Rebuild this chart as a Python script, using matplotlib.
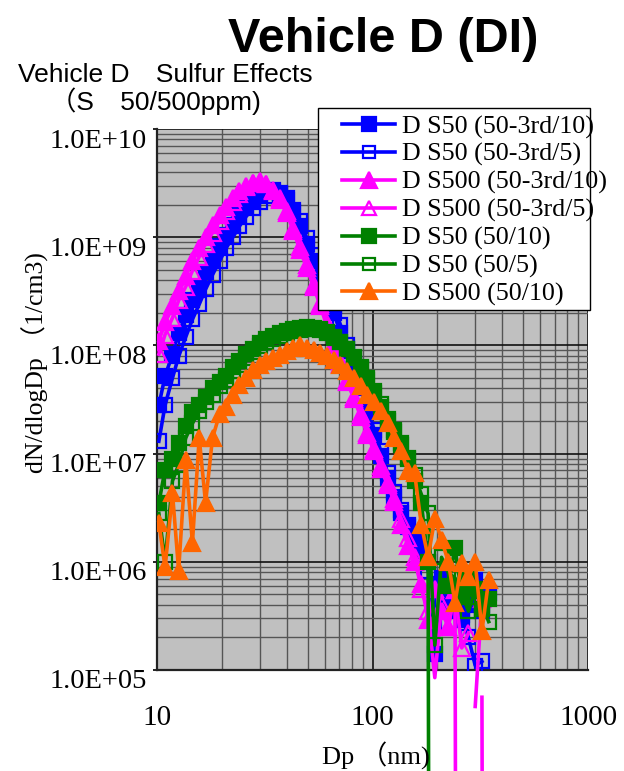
import numpy as np
import matplotlib
matplotlib.use("Agg")
import matplotlib.pyplot as plt
from matplotlib.lines import Line2D
from matplotlib.patches import Rectangle
from matplotlib.transforms import ScaledTranslation
from matplotlib.font_manager import FontProperties

nan = np.nan

# ---- data ----
dp_nm = [10.2, 10.9, 11.8, 12.6, 13.6, 14.6, 15.7, 16.8, 18.1, 19.5,
         20.9, 22.5, 24.1, 25.9, 27.9, 30.0, 32.2, 34.6, 37.2, 40.0,
         42.9, 46.1, 49.6, 53.3, 57.3, 61.5, 66.1, 71.0, 76.4, 82.0,
         88.2, 94.7, 101.8, 109.4, 117.6, 126.3, 135.8, 145.9, 156.8, 168.5,
         181.1, 194.6, 209.1, 224.7, 241.4, 259.5, 278.8, 299.6, 322.0, 346.0]

s50_3rd_10 = [2.8e7, 5.2e7, 8.3e7, 1.3e8, 1.9e8, 2.6e8, 3.5e8, 4.8e8, 6.3e8, 8.3e8,
              1.05e9, 1.3e9, 1.6e9, 1.9e9, 2.2e9, 2.45e9, 2.7e9, 2.75e9, 2.55e9, 2.3e9,
              1.7e9, 1.26e9, 8.7e8, 6.0e8, 4.2e8, 2.8e8, 2.0e8, 1.3e8, 8.9e7, 6.0e7,
              4.0e7, 2.4e7, 1.5e7, 9.5e6, 6.0e6, 4.0e6, 2.8e6, 2.1e6, 1.66e6, 1.3e6,
              1.0e6, 1.4e5, 7.1e5, 3.5e5, 5.0e5, 2.9e5, 4.0e5, 6.8e5, 3.5e5, 5.1e5]

s50_3rd_5 = [1.3e7, 2.8e7, 5.0e7, 7.9e7, 1.2e8, 1.74e8, 2.4e8, 3.3e8, 4.5e8, 6.0e8,
             7.9e8, 1.0e9, 1.26e9, 1.55e9, 1.86e9, 2.1e9, 2.4e9, 2.6e9, 2.5e9, 2.2e9,
             1.8e9, 1.4e9, 9.8e8, 6.9e8, 4.8e8, 3.3e8, 2.3e8, 1.55e8, 1.0e8, 6.8e7,
             4.4e7, 2.7e7, 1.66e7, 1.05e7, 6.6e6, 4.4e6, 3.0e6, 2.2e6, 1.66e6, 1.26e6,
             8.3e5, 6.3e5, 4.2e5, 2.8e5, 4.5e5, 3.2e5, 2.0e5, 1.1e5, 1.2e5, nan]

s500_3rd_10 = [1.1e8, 1.66e8, 2.3e8, 3.2e8, 4.4e8, 6.0e8, 7.9e8, 1.0e9, 1.3e9, 1.6e9,
               1.9e9, 2.3e9, 2.7e9, 3.0e9, 3.2e9, 3.3e9, 3.1e9, 2.7e9, 2.2e9, 1.66e9,
               1.15e9, 7.6e8, 5.2e8, 3.5e8, 2.3e8, 1.5e8, 1.0e8, 6.8e7, 4.6e7, 3.2e7,
               2.2e7, 1.5e7, 1.05e7, 7.2e6, 5.1e6, 3.6e6, 2.2e6, 1.4e6, 1.0e6, 6.3e5,
               2.9e5, 5.6e5, 3.5e5, 2.5e5, 5.5e5, 1e-20, nan, 4.6e4, 4.5e5, nan]

s500_3rd_5 = [8.3e7, 1.26e8, 1.8e8, 2.6e8, 3.5e8, 4.9e8, 6.6e8, 8.7e8, 1.1e9, 1.4e9,
              1.74e9, 2.1e9, 2.5e9, 2.9e9, 3.2e9, 3.2e9, 3.1e9, 2.75e9, 2.3e9, 1.74e9,
              1.2e9, 8.1e8, 5.5e8, 3.6e8, 2.4e8, 1.6e8, 1.05e8, 7.1e7, 4.8e7, 3.3e7,
              2.3e7, 1.55e7, 1.1e7, 7.6e6, 5.4e6, 3.8e6, 2.5e6, 1.66e6, 1.1e6, 5.6e5,
              3.5e5, 8.5e4, 4.0e5, 2.5e5, 5.5e5, 1.6e5, 2.2e5, nan, 5.6e4, 1e-20]

s50_10 = [3.5e6, 7.1e6, 8.9e6, 1.26e7, 1.8e7, 2.4e7, 2.8e7, 3.3e7, 4.0e7, 4.6e7,
          5.2e7, 6.3e7, 7.2e7, 8.3e7, 9.3e7, 1.05e8, 1.15e8, 1.23e8, 1.29e8, 1.35e8,
          1.41e8, 1.45e8, 1.48e8, 1.45e8, 1.41e8, 1.32e8, 1.2e8, 1.07e8, 9.3e7, 7.6e7,
          6.0e7, 4.8e7, 3.6e7, 2.7e7, 2.0e7, 1.66e7, 1.26e7, 8.9e6, 5.6e6, 3.5e6,
          1.0e6, 1e-20, nan, 6.0e5, 1.35e6, 4.9e5, 7.9e5, 5.6e5, 3.7e5, 4.5e5]

s50_5 = [2.8e6, 1.0e6, 5.6e6, 7.9e6, 1.4e7, 1.9e7, 2.5e7, 3.0e7, 3.5e7, 4.2e7,
         4.8e7, 5.8e7, 6.6e7, 7.6e7, 8.7e7, 9.8e7, 1.07e8, 1.15e8, 1.23e8, 1.29e8,
         1.35e8, 1.38e8, 1.41e8, 1.41e8, 1.38e8, 1.29e8, 1.17e8, 1.07e8, 9.3e7, 7.8e7,
         6.3e7, 5.0e7, 3.8e7, 2.9e7, 2.1e7, 1.6e7, 1.2e7, 9.1e6, 6.3e6, 4.2e6,
         2.8e6, 1.7e5, 1.1e6, 7.9e5, 7.1e5, 5.0e5, 3.5e5, 5.6e5, 4.0e5, 2.8e5]

s500_10 = [2.3e6, 8.9e5, 4.3e6, 8.3e5, 8.7e6, 1.5e6, 1.4e7, 3.5e6, 1.4e7, 2.3e7,
           2.7e7, 3.5e7, 4.3e7, 5.0e7, 5.9e7, 6.6e7, 7.2e7, 7.6e7, 8.1e7, 8.9e7,
           9.5e7, 1.0e8, 9.5e7, 9.1e7, 8.5e7, 7.9e7, 7.4e7, 6.6e7, 5.8e7, 5.0e7,
           4.2e7, 3.5e7, 3.0e7, 2.5e7, 1.9e7, 1.4e7, 1.05e7, 6.9e6, 6.6e6, 2.2e6,
           1.1e6, 2.5e6, 1.6e6, 1.0e6, 4.2e5, 9.8e5, 7.2e5, 1.0e6, 2.3e5, 6.8e5]

labels = ["D S50 (50-3rd/10)", "D S50 (50-3rd/5)", "D S500 (50-3rd/10)",
          "D S500 (50-3rd/5)", "D S50 (50/10)", "D S50 (50/5)", "D S500 (50/10)"]
ytick_vals = [1e5, 1e6, 1e7, 1e8, 1e9, 1e10]
ytick_labels = ["1.0E+05", "1.0E+06", "1.0E+07", "1.0E+08", "1.0E+09", "1.0E+10"]
xtick_vals = [10, 100, 1000]
xtick_labels = ["10", "100", "1000"]

# ---- styles ----
series = [
    (s50_3rd_10, "#0000FF", "s", True, 10.0),
    (s50_3rd_5, "#0000FF", "s", False, 9.5),
    (s500_3rd_10, "#FF00FF", "^", True, 11.5),
    (s500_3rd_5, "#FF00FF", "^", False, 11.0),
    (s50_10, "#008000", "s", True, 10.0),
    (s50_5, "#008000", "s", False, 9.5),
    (s500_10, "#FF6600", "^", True, 11.5),
]

W, H = 624, 771
fig = plt.figure(figsize=(W / 100, H / 100), dpi=100)
ax = fig.add_axes([157 / W, 1 - 670 / H, (588 - 157) / W, (670 - 129) / H])
ax.set_xscale("log")
ax.set_yscale("log")
ax.set_xlim(10, 1000)
ax.set_ylim(1e5, 1e10)
ax.set_facecolor("#C0C0C0")
ax.set_axisbelow(True)
ax.grid(which="major", color="#111111", lw=1.2)
ax.grid(which="minor", color="#555555", lw=1.0)

serif = ["Liberation Serif", "Noto Sans CJK JP"]
sans = ["Liberation Sans", "Noto Sans CJK JP"]

ax.set_yticks(ytick_vals)
ax.set_yticklabels(ytick_labels, family=serif, fontsize=20.5)
ax.set_xticks(xtick_vals)
ax.set_xticklabels(xtick_labels, family=serif, fontsize=21)
ax.tick_params(axis="y", which="major", length=3, width=1.2, pad=4, direction="out")
ax.tick_params(axis="x", which="major", length=0, pad=25)
ax.tick_params(which="minor", length=0)
ax.yaxis.set_minor_formatter(plt.NullFormatter())
ax.xaxis.set_minor_formatter(plt.NullFormatter())
for lab in ax.get_yticklabels():
    lab.set_transform(lab.get_transform() + ScaledTranslation(0, -9 / 100, fig.dpi_scale_trans))
for side in ["top", "right"]:
    ax.spines[side].set_visible(False)
for side in ["left", "bottom"]:
    ax.spines[side].set_color("#222222")
    ax.spines[side].set_linewidth(1.6)

handles = []
for k, (vals, color, marker, filled, ms) in enumerate(series):
    z = 3 + k * 0.1
    ax.plot(dp_nm, vals, color=color, lw=2.6, clip_on=False, zorder=z)
    ax.plot(dp_nm, vals, ls="none", marker=marker, ms=ms,
            mfc=color if filled else "none", mec=color, mew=1.6,
            clip_on=True, zorder=z + 0.05)
    handles.append(Line2D([], [], color=color, lw=2.6, marker=marker, ms=ms * 0.95,
                          mfc=color if filled else "none", mec=color, mew=1.6))

# legend box
fig.add_artist(Rectangle((318 / W, 1 - 310 / H), (590 - 318) / W, (310 - 108) / H,
                         transform=fig.transFigure, facecolor="white",
                         edgecolor="black", lw=1.0, zorder=2))
leg = fig.legend(handles, labels, loc="upper left",
                 bbox_to_anchor=(342 / W, 1 - 115 / H), bbox_transform=fig.transFigure,
                 frameon=False, prop=FontProperties(family="Liberation Serif", size=18.7),
                 handlelength=2.05, handletextpad=0.27, labelspacing=0.165,
                 borderpad=0, borderaxespad=0)
leg.set_zorder(3)

# titles and labels
fig.text(383 / W, 1 - 52 / H, "Vehicle D (DI)", ha="center", va="baseline",
         family="Liberation Sans", fontweight="bold", fontsize=35)
fig.text(18 / W, 1 - 82 / H, "Vehicle D\u3000Sulfur Effects", ha="left", va="baseline",
         family=sans, fontsize=19)
fig.text(50 / W, 1 - 110 / H, "\uff08S\u300050/500ppm)", ha="left", va="baseline",
         family=sans, fontsize=19)
fig.text(35 / W, 1 - 363 / H, "dN/dlogDp \uff081/cm3)", rotation=90, ha="center",
         va="center", family=serif, fontsize=18.5)
fig.text(376 / W, 1 - 765 / H, "Dp \uff08nm)", ha="center", va="baseline",
         family=serif, fontsize=19)

fig.savefig("out.png", dpi=100)
